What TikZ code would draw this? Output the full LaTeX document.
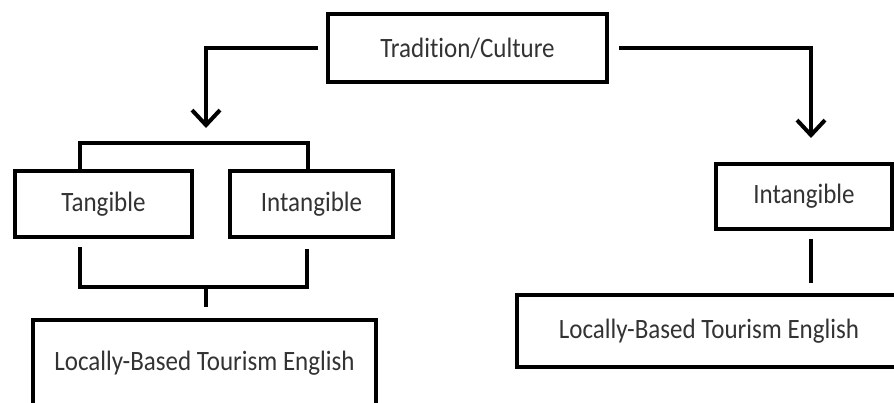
\documentclass[tikz,border=0pt]{standalone}
\usepackage{fontspec}
\setmainfont{Carlito}[Ligatures=NoCommon]
\usetikzlibrary{arrows.meta,calc}
\definecolor{txt}{HTML}{333333}
\newcommand{\stretchtxt}[1]{\scalebox{1}[1.12]{#1}}
\begin{document}
\begin{tikzpicture}[x=1pt,y=-1pt,
  box/.style={draw=black,line width=3.8pt,rectangle,inner sep=0pt,text=txt,
    font=\fontsize{25}{30}\selectfont},
  conn/.style={draw=black,line width=4.5pt},
  arr/.style={conn,-{Straight Barb[length=15pt,width=28pt,line width=4pt]}}]
\useasboundingbox (0,0) rectangle (894,403);
\clip (0,0) rectangle (894,403);
\fill[white] (0,0) rectangle (894,403);
\node[box,minimum width=279pt,minimum height=68pt] (trad) at (467.5,48) {\stretchtxt{Tradition/Culture}};
\node[box,minimum width=177pt,minimum height=66pt] (tang) at (103.5,204) {\stretchtxt{Tangible}};
\node[box,minimum width=163pt,minimum height=66pt] (intL) at (311.5,204) {\stretchtxt{Intangible}};
\node[box,minimum width=343pt,minimum height=86pt] (lbeL) at (204.5,363) {\stretchtxt{Locally-Based Tourism English}};
\node[box,minimum width=176pt,minimum height=65pt] (intR) at (804,196.5) {\stretchtxt{Intangible}};
\node[box,minimum width=384pt,minimum height=72pt] (lbeR) at (709,331) {\stretchtxt{Locally-Based Tourism English}};
\coordinate (tipL) at (206,128);
\coordinate (tipR) at (811,138);
\coordinate (bl) at (80,143);
\coordinate (br) at (308,143);
% left arrow
\draw[arr] ([xshift=-8pt]trad.west) -| (tipL);
% right arrow
\draw[arr] ([xshift=10pt]trad.east) -| (tipR);
% upper bracket
\draw[conn] (bl |- tang.north) -- (bl) -- (br) -- (br |- intL.north);
% lower bracket
\coordinate (dl) at (80,287);
\coordinate (dr) at (307,287);
\draw[conn] ($(tang.south -| dl)+(0,8)$) -- (dl) -- (dr) -- ($(intL.south -| dr)+(0,10)$);
\draw[conn] (206,287) -- ($(lbeL.north -| 206,0)+(0,-11)$);
% right stem
\draw[conn] ($(intR.south -| tipR)+(0,8)$) -- ($(lbeR.north -| tipR)+(0,-10)$);
\end{tikzpicture}
\end{document}
